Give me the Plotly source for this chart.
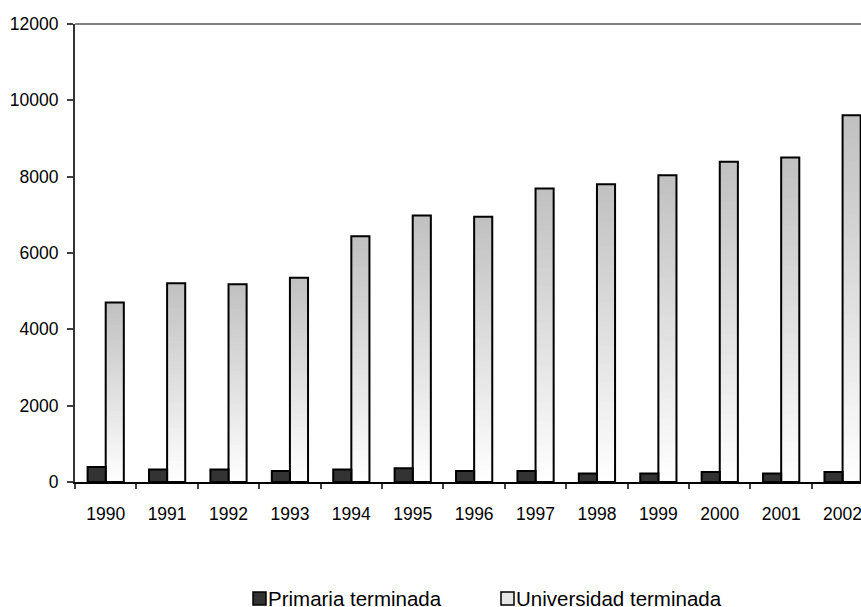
import plotly.graph_objects as go

# ---- data ----
years = ['1990', '1991', '1992', '1993', '1994', '1995', '1996',
         '1997', '1998', '1999', '2000', '2001', '2002']
primaria = [390, 325, 325, 290, 325, 360, 290, 290, 220, 225, 260, 225, 260]
universidad = [4700, 5210, 5180, 5350, 6440, 6980, 6950, 7690, 7800, 8040, 8390, 8500, 9610]
y_ticks = [0, 2000, 4000, 6000, 8000, 10000, 12000]
series_names = ['Primaria terminada', 'Universidad terminada']

# ---- style ----
FONT = 'Arial, "Liberation Sans", sans-serif'
W, H = 861, 607
L, R, T, B = 75, 0, 24, 125
PW, PH = W - L - R, H - T - B
BAR_W = 0.295
TOP_RGB = (192, 192, 192)
BOT_RGB = (255, 255, 255)
K = 48  # gradient steps

fig = go.Figure()

# gradient fill for "Universidad terminada": overlapping bars, tallest first
for k in range(K, 0, -1):
    f = (k - 0.5) / K
    c = tuple(round(BOT_RGB[i] + (TOP_RGB[i] - BOT_RGB[i]) * f) for i in range(3))
    fig.add_trace(go.Bar(
        x=years, y=[v * k / K for v in universidad],
        width=BAR_W, offset=0,
        marker=dict(color='rgb(%d,%d,%d)' % c, line=dict(width=0)),
        showlegend=False, hoverinfo='skip'))

# outline of "Universidad terminada"
fig.add_trace(go.Bar(
    x=years, y=universidad, name=series_names[1],
    width=BAR_W, offset=0,
    marker=dict(color='rgba(0,0,0,0)', line=dict(color='black', width=2)),
    showlegend=False))

# "Primaria terminada"
fig.add_trace(go.Bar(
    x=years, y=primaria, name=series_names[0],
    width=BAR_W, offset=-BAR_W,
    marker=dict(color='#333333', line=dict(color='black', width=2)),
    showlegend=False))


def px_x(p):
    return (p - L) / PW


def px_y(p):
    return (H - B - p) / PH


shapes = [
    # top border of the plot area
    dict(type='line', xref='paper', yref='paper', x0=0, x1=1, y0=1, y1=1,
         line=dict(color='#808080', width=2), layer='below'),
    # legend swatches
    dict(type='rect', xref='paper', yref='paper',
         x0=px_x(253), x1=px_x(266), y0=px_y(605), y1=px_y(592),
         fillcolor='#333333', line=dict(color='black', width=1.5)),
    dict(type='rect', xref='paper', yref='paper',
         x0=px_x(501), x1=px_x(514), y0=px_y(605), y1=px_y(592),
         fillcolor='#e6e6e6', line=dict(color='black', width=1.5)),
]

annotations = [
    dict(text=series_names[0], xref='paper', yref='paper',
         x=px_x(266), y=px_y(598), xanchor='left', yanchor='middle',
         showarrow=False, font=dict(family=FONT, size=20.5, color='black')),
    dict(text=series_names[1], xref='paper', yref='paper',
         x=px_x(514), y=px_y(598), xanchor='left', yanchor='middle',
         showarrow=False, font=dict(family=FONT, size=20.5, color='black')),
]

fig.update_layout(
    width=W, height=H,
    margin=dict(l=L, r=R, t=T, b=B, pad=0),
    paper_bgcolor='white', plot_bgcolor='white',
    barmode='overlay',
    showlegend=False,
    font=dict(family=FONT, color='black'),
    shapes=shapes,
    annotations=annotations,
    xaxis=dict(
        type='category', range=[-0.5, 12.3],
        showline=True, linecolor='black', linewidth=2,
        ticks='outside', tickson='boundaries', ticklen=5,
        tickcolor='#404040', tickwidth=1.5,
        showgrid=False, zeroline=False,
        tickfont=dict(family=FONT, size=17.5, color='black'),
        ticklabelstandoff=15,
    ),
    yaxis=dict(
        range=[0, 12000], tickvals=y_ticks, ticktext=[str(v) for v in y_ticks],
        showline=True, linecolor='#333333', linewidth=2,
        ticks='outside', ticklen=6, tickcolor='#404040', tickwidth=1.5,
        showgrid=False, zeroline=False,
        tickfont=dict(family=FONT, size=17.5, color='black'),
        ticklabelstandoff=5,
    ),
)

fig.write_html(
    "out.html",
    config={'displayModeBar': False},
    post_script="document.body.style.margin='0';document.body.style.padding='0';"
                "document.body.style.overflow='hidden';",
)
